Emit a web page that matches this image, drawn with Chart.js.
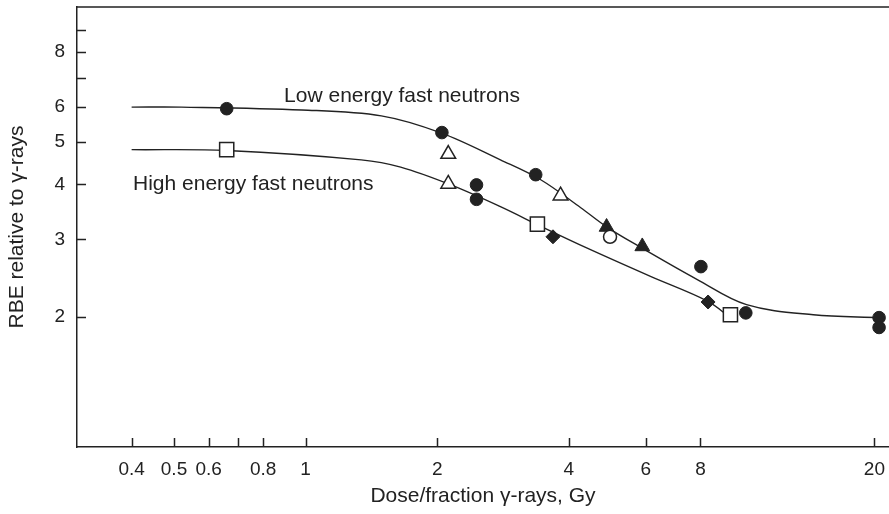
<!DOCTYPE html>
<html>
<head>
<meta charset="utf-8">
<script src="https://cdn.jsdelivr.net/npm/chart.js@4.4.1/dist/chart.umd.min.js"></script>
<style>
  html, body { margin: 0; padding: 0; background: #fff; }
  #wrap { width: 889px; height: 514px; position: relative; }
</style>
</head>
<body>
<div id="wrap"><canvas id="rbeChart"></canvas></div>
<script>
// axis ticks (log-log)
const X_TICKS = [0.4, 0.5, 0.6, 0.7, 0.8, 1, 2, 4, 6, 8, 20];
const X_UNLABELED = [0.7];
const Y_TICKS = [2, 3, 4, 5, 6, 7, 8, 9];
const Y_UNLABELED = [7, 9];

// fitted curves
const lowEnergyCurve = [
  { x: 0.4, y: 6.0 }, { x: 0.52, y: 6.0 }, { x: 0.98, y: 5.91 }, { x: 1.49, y: 5.73 },
  { x: 2.04, y: 5.24 }, { x: 2.79, y: 4.55 }, { x: 3.45, y: 4.10 }, { x: 4.26, y: 3.54 },
  { x: 4.91, y: 3.19 }, { x: 5.83, y: 2.88 }, { x: 7.87, y: 2.43 }, { x: 10.2, y: 2.13 },
  { x: 14.5, y: 2.02 }, { x: 20.6, y: 1.99 }
];
const highEnergyCurve = [
  { x: 0.4, y: 4.80 }, { x: 0.66, y: 4.78 }, { x: 1.34, y: 4.55 }, { x: 1.65, y: 4.38 },
  { x: 2.15, y: 3.99 }, { x: 2.79, y: 3.56 }, { x: 3.50, y: 3.19 }, { x: 4.42, y: 2.86 },
  { x: 6.15, y: 2.47 }, { x: 8.30, y: 2.17 }, { x: 9.37, y: 1.99 }
];

// measured points, grouped by symbol
const filledCircles = [
  { x: 0.66, y: 5.95 }, { x: 2.05, y: 5.25 }, { x: 3.36, y: 4.21 }, { x: 8.02, y: 2.60 },
  { x: 10.16, y: 2.04 }, { x: 20.5, y: 1.99 }, { x: 20.5, y: 1.89 },
  { x: 2.46, y: 3.99 }, { x: 2.46, y: 3.70 }
];
const openTriangles = [{ x: 2.12, y: 4.69 }, { x: 3.83, y: 3.77 }, { x: 2.12, y: 4.01 }];
const filledTriangles = [{ x: 4.88, y: 3.20 }, { x: 5.89, y: 2.89 }];
const openCircles = [{ x: 4.97, y: 3.04 }];
const openSquares = [{ x: 0.66, y: 4.80 }, { x: 3.39, y: 3.25 }, { x: 9.37, y: 2.02 }];
const filledDiamonds = [{ x: 3.68, y: 3.04 }, { x: 8.33, y: 2.16 }];

const curveLabels = [
  { text: "Low energy fast neutrons", x: 0.893, y: 6.15 },
  { text: "High energy fast neutrons", x: 0.403, y: 3.89 }
];

const INK = "#222222";
const FONT = "'Liberation Sans', Arial, Helvetica, sans-serif";

function curveDataset(data) {
  return {
    type: "line",
    data,
    borderColor: INK,
    borderWidth: 1.4,
    pointRadius: 0,
    fill: false,
    tension: 0.35,
    order: 2
  };
}

function markerDataset(data, style, radius, filled) {
  return {
    type: "scatter",
    data,
    pointStyle: style,
    pointRadius: radius,
    pointHoverRadius: radius,
    pointBackgroundColor: filled ? INK : "#ffffff",
    pointBorderColor: INK,
    pointBorderWidth: filled ? 1 : 1.5,
    order: 1
  };
}

const framePlugin = {
  id: "frame",
  afterDatasetsDraw(chart) {
    const { ctx, chartArea, scales } = chart;
    ctx.save();
    ctx.strokeStyle = INK;
    ctx.lineWidth = 1.5;
    ctx.beginPath();
    ctx.moveTo(chartArea.left, chartArea.top);
    ctx.lineTo(chartArea.right, chartArea.top);
    X_TICKS.forEach((v) => {
      const px = Math.round(scales.x.getPixelForValue(v)) + 0.5;
      ctx.moveTo(px, chartArea.bottom);
      ctx.lineTo(px, chartArea.bottom - 9);
    });
    Y_TICKS.forEach((v) => {
      const py = Math.round(scales.y.getPixelForValue(v)) + 0.5;
      ctx.moveTo(chartArea.left, py);
      ctx.lineTo(chartArea.left + 9, py);
    });
    ctx.stroke();

    ctx.fillStyle = INK;
    ctx.font = `21px ${FONT}`;
    ctx.textBaseline = "alphabetic";
    ctx.textAlign = "left";
    curveLabels.forEach((l) => {
      ctx.fillText(l.text, scales.x.getPixelForValue(l.x), scales.y.getPixelForValue(l.y));
    });
    ctx.restore();
  }
};

new Chart(document.getElementById("rbeChart"), {
  data: {
    datasets: [
      curveDataset(lowEnergyCurve),
      curveDataset(highEnergyCurve),
      markerDataset(openCircles, "circle", 6.5, false),
      markerDataset(filledTriangles, "triangle", 8.5, true),
      markerDataset(openTriangles, "triangle", 8.5, false),
      markerDataset(openSquares, "rect", 10, false),
      markerDataset(filledDiamonds, "rectRot", 7, true),
      markerDataset(filledCircles, "circle", 6.3, true)
    ]
  },
  options: {
    responsive: true,
    maintainAspectRatio: false,
    animation: false,
    events: [],
    layout: { autoPadding: false, padding: { top: 7, right: 0, left: 0, bottom: 0 } },
    plugins: { legend: { display: false }, tooltip: { enabled: false } },
    scales: {
      x: {
        type: "logarithmic",
        min: 0.302,
        max: 21.6,
        afterBuildTicks(scale) {
          scale.ticks = X_TICKS.map((v) => ({ value: v }));
        },
        afterFit(scale) {
          scale.height = 67;
          scale.paddingLeft = 0;
          scale.paddingRight = 0;
        },
        grid: { display: true, drawOnChartArea: false, drawTicks: false },
        border: { display: true, color: INK, width: 1.5 },
        ticks: {
          autoSkip: false,
          maxRotation: 0,
          padding: 11,
          color: INK,
          font: { family: FONT, size: 19, lineHeight: 1.2 },
          callback: (v) => (X_UNLABELED.includes(v) ? "" : String(v))
        },
        title: {
          display: true,
          text: "Dose/fraction γ-rays, Gy",
          color: INK,
          font: { family: FONT, size: 21, lineHeight: 1.2 },
          padding: { top: 0, bottom: 5 }
        }
      },
      y: {
        type: "logarithmic",
        min: 1.01,
        max: 10.14,
        afterBuildTicks(scale) {
          scale.ticks = Y_TICKS.map((v) => ({ value: v }));
        },
        afterFit(scale) {
          scale.width = 77;
          scale.paddingTop = 0;
          scale.paddingBottom = 0;
        },
        grid: { display: true, drawOnChartArea: false, drawTicks: false },
        border: { display: true, color: INK, width: 1.5 },
        ticks: {
          autoSkip: false,
          padding: 12,
          color: INK,
          font: { family: FONT, size: 19, lineHeight: 1.2 },
          callback: (v) => (Y_UNLABELED.includes(v) ? "" : String(v))
        },
        title: {
          display: true,
          text: "RBE relative to γ-rays",
          color: INK,
          font: { family: FONT, size: 21, lineHeight: 1.2 },
          padding: { top: 5, bottom: 0 }
        }
      }
    }
  },
  plugins: [framePlugin]
});
</script>
</body>
</html>
